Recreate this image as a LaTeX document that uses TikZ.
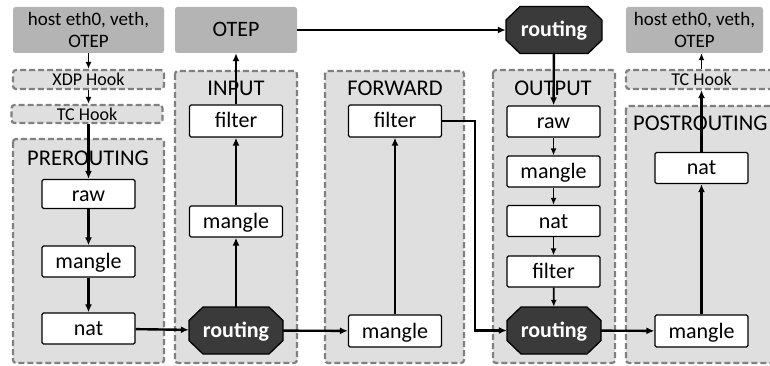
\documentclass[tikz,border=0pt]{standalone}
\usepackage{fontspec}
\setmainfont{Carlito}
\usetikzlibrary{arrows.meta}
\definecolor{hostgray}{HTML}{B4B4B4}
\definecolor{panelgray}{HTML}{DFDFDF}
\definecolor{dashgray}{HTML}{808080}
\definecolor{routerfill}{HTML}{3A3A3A}
% octagon outline: half width, centre x, centre y
\newcommand{\octagonat}[3]{%
  \filldraw[fill=routerfill, draw=black, line width=1.3pt]
    (#2-#1+14,#3-23.5) -- (#2+#1-14,#3-23.5) -- (#2+#1,#3-10) -- (#2+#1,#3+10)
    -- (#2+#1-14,#3+23.5) -- (#2-#1+14,#3+23.5) -- (#2-#1,#3+10) -- (#2-#1,#3-10)
    -- cycle;}
\begin{document}
\begin{tikzpicture}[x=1pt,y=-1pt,
  panel/.style={draw=dashgray, fill=panelgray, line width=2.2pt,
    dash pattern=on 6pt off 3pt, rounded corners=3pt},
  hook/.style={panel, minimum width=151pt, minimum height=19pt, inner sep=0pt,
    text height=13.5pt, text depth=1pt, font=\fontsize{18}{20}\selectfont},
  hostbox/.style={fill=hostgray, rounded corners=2.5pt, minimum width=#1,
    minimum height=46pt, inner sep=0pt, align=center,
    font=\fontsize{19}{22}\selectfont},
  tbl/.style={draw=black, fill=white, line width=1.3pt, rounded corners=1.5pt,
    minimum width=93pt, minimum height=31pt, inner sep=0pt,
    text height=16pt, text depth=2pt, font=\fontsize{22}{24}\selectfont},
  router/.style={minimum width=94pt, minimum height=47pt, inner sep=0pt,
    text=white, text height=16pt, text depth=2pt,
    font=\fontsize{22}{24}\selectfont\bfseries},
  chain/.style={inner sep=0pt, font=\fontsize{22.5}{24}\selectfont},
  flow/.style={line width=2.4pt, -{Latex[length=8pt,width=7pt]}},
  minor/.style={line width=1.8pt, -{Latex[length=7pt,width=6pt]}}]
\useasboundingbox (0,0) rectangle (770,366);
\clip (0,0) rectangle (770,366);

% chain panels
\path[panel] (13,139) rectangle (164,363);
\path[panel] (175,71) rectangle (297,363);
\path[panel] (325,71) rectangle (464,363);
\path[panel] (493,70) rectangle (615,363);
\path[panel] (626,106) rectangle (800,363);

% chain names
\node[chain, anchor=base] (lpre) at (88,166) {PREROUTING};
\node[chain, anchor=base] (lin) at (236,96) {INPUT};
\node[chain, anchor=base] (lfwd) at (395,96) {FORWARD};
\node[chain, anchor=base] (lout) at (553,96) {OUTPUT};
\node[chain, anchor=base west] (lpost) at (633,131) {POSTROUTING};

% interfaces and hooks
\node[hostbox=151pt] (hostin) at (88.5,30) {host eth0, veth,\\OTEP};
\node[hostbox=122pt, font=\fontsize{22}{24}\selectfont,
  text height=16pt, text depth=2pt] (otep) at (236,30) {OTEP};
\node[hostbox=137pt] (hostout) at (694.5,30) {host eth0, veth,\\OTEP};
\node[hook] (xdp) at (88.5,79.5) {XDP Hook};
\node[hook, minimum height=18pt] (tcin) at (87,114) {TC Hook};
\node[hook] (tcout) at (701.5,79.5) {TC Hook};

% PREROUTING tables
\node[tbl, minimum height=29pt] (preraw) at (88.5,194) {raw};
\node[tbl] (premangle) at (88.5,261.5) {mangle};
\node[tbl] (prenat) at (88.5,328.5) {nat};

% INPUT
\octagonat{47}{236}{330.5}
\node[router] (rin) at (236,330.5) {routing};
\node[tbl] (inmangle) at (236,221.5) {mangle};
\node[tbl, minimum height=32pt] (infilter) at (236,121) {filter};

% FORWARD
\node[tbl, minimum height=32pt] (fwdmangle) at (395,331) {mangle};
\node[tbl, minimum height=32pt] (fwdfilter) at (395,121) {filter};

% OUTPUT
\octagonat{48}{554}{30}
\node[router, minimum width=96pt] (rtop) at (554,30) {routing};
\node[tbl] (outraw) at (553.5,121.5) {raw};
\node[tbl] (outmangle) at (553.5,171.5) {mangle};
\node[tbl] (outnat) at (553.5,221) {nat};
\node[tbl] (outfilter) at (553.5,271.5) {filter};
\octagonat{47}{554}{330.5}
\node[router] (rout) at (554,330.5) {routing};

% POSTROUTING
\node[tbl, minimum height=32pt] (postmangle) at (701.5,331) {mangle};
\node[tbl] (postnat) at (701.5,168) {nat};

\coordinate (bend1) at (475,121);
\coordinate (bend2) at (475,330.5);

% packet paths
\draw[minor] (hostin) -- (xdp);
\draw[minor] (xdp) -- (tcin.north -| xdp);
\draw[flow] (tcin.south -| preraw) -- (preraw);
\draw[flow] (preraw) -- (premangle);
\draw[flow] (premangle) -- (prenat);
\draw[flow] (prenat) -- (rin);
\draw[flow] (rin) -- (inmangle);
\draw[flow] (inmangle) -- (infilter);
\draw[flow] (infilter) -- (otep);
\draw[flow] (otep) -- (rtop);
\draw[flow] (rin) -- (fwdmangle);
\draw[flow] (fwdmangle) -- (fwdfilter);
\draw[flow] (fwdfilter.east) -- (bend1) -- (bend2) -- (rout.west);
\draw[flow] (rtop) -- (outraw);
\draw[minor] (outraw) -- (outmangle);
\draw[minor] (outmangle) -- (outnat);
\draw[minor] (outnat) -- (outfilter);
\draw[minor] (outfilter) -- (rout);
\draw[flow] (rout) -- (postmangle);
\draw[flow] (postmangle) -- (postnat);
\draw[flow] (postnat) -- (tcout.south -| postnat);
\draw[minor] (tcout.north -| postnat) -- (hostout.south -| postnat);
\end{tikzpicture}
\end{document}
